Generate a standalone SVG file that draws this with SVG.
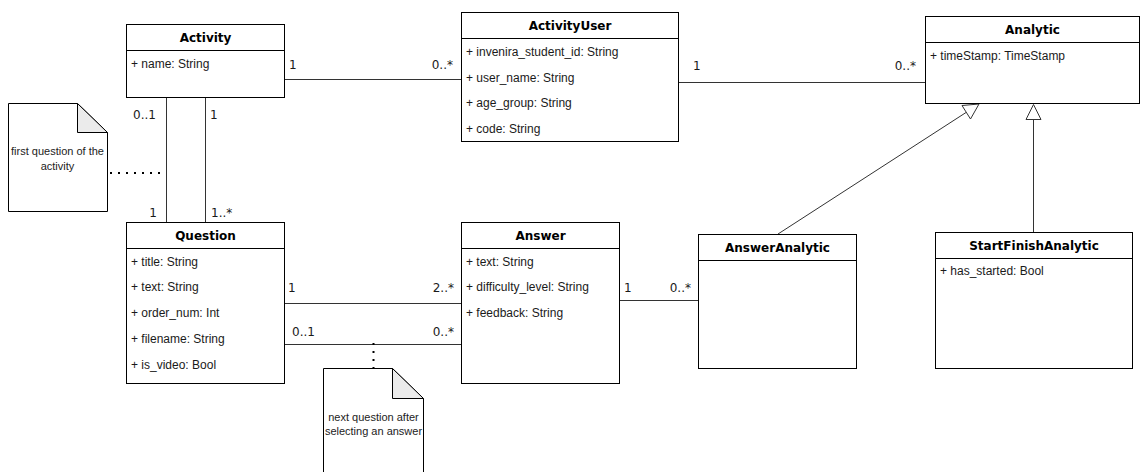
<svg xmlns="http://www.w3.org/2000/svg" width="1141" height="472" viewBox="0 0 1141 472">
  <style>
    .box { fill: #ffffff; stroke: #000000; stroke-width: 1; }
    .sep { stroke: #000000; stroke-width: 1; }
    .title { font-family: "DejaVu Sans", Verdana, sans-serif; font-size: 12px; font-weight: bold; fill: #000000; text-anchor: middle; }
    .attr { font-family: "Liberation Sans", Arial, sans-serif; font-size: 12px; fill: #1a1a1a; }
    .mult { font-family: "DejaVu Sans", Verdana, sans-serif; font-size: 12px; fill: #1a1a1a; }
    .mult.end { text-anchor: end; }
    .edge { fill: none; stroke: #333333; stroke-width: 1; }
    .dots { fill: none; stroke: #000000; stroke-width: 2; stroke-dasharray: 2 6; }
    .gen { fill: #ffffff; stroke: #333333; stroke-width: 1; }
    .note { fill: #ffffff; stroke: #000000; stroke-width: 1; }
    .fold { fill: #ebebeb; stroke: #000000; stroke-width: 1; }
    .notetext { font-family: "Liberation Sans", Arial, sans-serif; font-size: 11px; fill: #222222; text-anchor: middle; }
  </style>

  <!-- associations, generalizations and note anchors -->
  <g id="connectors">
    <!-- Activity 1 — 0..* ActivityUser -->
    <line class="edge" x1="285" y1="79.5" x2="462" y2="79.5"/>
    <text class="mult" x="289" y="69">1</text>
    <text class="mult end" x="453" y="69">0..*</text>

    <!-- ActivityUser 1 — 0..* Analytic -->
    <line class="edge" x1="679" y1="82.5" x2="926" y2="82.5"/>
    <text class="mult" x="693" y="69.5">1</text>
    <text class="mult end" x="916" y="69.5">0..*</text>

    <!-- Activity 0..1 — 1 Question (first question) -->
    <line class="edge" x1="166.5" y1="98" x2="166.5" y2="222"/>
    <text class="mult end" x="156" y="118.5">0..1</text>
    <text class="mult end" x="157" y="216.5">1</text>

    <!-- Activity 1 — 1..* Question -->
    <line class="edge" x1="205.5" y1="98" x2="205.5" y2="222"/>
    <text class="mult" x="210" y="118.5">1</text>
    <text class="mult" x="211" y="216.5">1..*</text>

    <!-- Question 1 — 2..* Answer -->
    <line class="edge" x1="285" y1="303.5" x2="462" y2="303.5"/>
    <text class="mult" x="288" y="291.5">1</text>
    <text class="mult end" x="454" y="291.5">2..*</text>

    <!-- Question 0..1 — 0..* Answer (next question) -->
    <line class="edge" x1="285" y1="344.5" x2="462" y2="344.5"/>
    <text class="mult" x="292" y="336">0..1</text>
    <text class="mult end" x="454" y="336">0..*</text>

    <!-- Answer 1 — 0..* AnswerAnalytic -->
    <line class="edge" x1="620" y1="300.5" x2="699" y2="300.5"/>
    <text class="mult" x="624" y="291.5">1</text>
    <text class="mult end" x="691" y="291.5">0..*</text>

    <!-- AnswerAnalytic extends Analytic -->
    <line class="edge" x1="778" y1="234" x2="966" y2="112.5"/>
    <polygon class="gen" points="962,105.5 979,104 970.5,119"/>

    <!-- StartFinishAnalytic extends Analytic -->
    <line class="edge" x1="1033.5" y1="119.5" x2="1033.5" y2="232"/>
    <polygon class="gen" points="1033.5,104.5 1026,119.5 1041,119.5"/>

    <!-- note anchors -->
    <line class="dots" x1="110" y1="173" x2="166" y2="173"/>
    <line class="dots" x1="373.5" y1="343" x2="373.5" y2="368"/>
  </g>

  <g id="activity">
    <rect class="box" x="126.5" y="24.5" width="158" height="73"/>
    <line class="sep" x1="126.5" y1="50.5" x2="284.5" y2="50.5"/>
    <text class="title" x="205.5" y="41.5">Activity</text>
    <text class="attr" x="131" y="68">+ name: String</text>
  </g>

  <g id="activity-user">
    <rect class="box" x="461.5" y="12.5" width="217" height="129"/>
    <line class="sep" x1="461.5" y1="38.5" x2="678.5" y2="38.5"/>
    <text class="title" x="570" y="29.5">ActivityUser</text>
    <text class="attr" x="466" y="56">+ invenira_student_id: String</text>
    <text class="attr" x="466" y="81.5">+ user_name: String</text>
    <text class="attr" x="466" y="107">+ age_group: String</text>
    <text class="attr" x="466" y="132.5">+ code: String</text>
  </g>

  <g id="analytic">
    <rect class="box" x="925.5" y="16.5" width="214" height="87"/>
    <line class="sep" x1="925.5" y1="42.5" x2="1139.5" y2="42.5"/>
    <text class="title" x="1032.5" y="33.5">Analytic</text>
    <text class="attr" x="930" y="60">+ timeStamp: TimeStamp</text>
  </g>

  <g id="question">
    <rect class="box" x="126.5" y="222.5" width="158" height="161"/>
    <line class="sep" x1="126.5" y1="248.5" x2="284.5" y2="248.5"/>
    <text class="title" x="205.5" y="239.5">Question</text>
    <text class="attr" x="131" y="265.5">+ title: String</text>
    <text class="attr" x="131" y="291">+ text: String</text>
    <text class="attr" x="131" y="317">+ order_num: Int</text>
    <text class="attr" x="131" y="343">+ filename: String</text>
    <text class="attr" x="131" y="368.5">+ is_video: Bool</text>
  </g>

  <g id="answer">
    <rect class="box" x="461.5" y="222.5" width="158" height="161"/>
    <line class="sep" x1="461.5" y1="248.5" x2="619.5" y2="248.5"/>
    <text class="title" x="540.5" y="239.5">Answer</text>
    <text class="attr" x="466" y="265.5">+ text: String</text>
    <text class="attr" x="466" y="291">+ difficulty_level: String</text>
    <text class="attr" x="466" y="317">+ feedback: String</text>
  </g>

  <g id="answer-analytic">
    <rect class="box" x="698.5" y="234.5" width="158" height="134"/>
    <line class="sep" x1="698.5" y1="260.5" x2="856.5" y2="260.5"/>
    <text class="title" x="777.5" y="251.5">AnswerAnalytic</text>
  </g>

  <g id="start-finish-analytic">
    <rect class="box" x="935.5" y="232.5" width="197" height="136"/>
    <line class="sep" x1="935.5" y1="258.5" x2="1132.5" y2="258.5"/>
    <text class="title" x="1034" y="249.5">StartFinishAnalytic</text>
    <text class="attr" x="940" y="275">+ has_started: Bool</text>
  </g>

  <g id="note-first-question">
    <path class="note" d="M8.5,103.5 H77.5 L107.5,132.5 V211.5 H8.5 Z"/>
    <path class="fold" d="M77.5,103.5 V132.5 H107.5 Z"/>
    <text class="notetext" x="57.5" y="155">first question of the</text>
    <text class="notetext" x="57.5" y="169.5">activity</text>
  </g>

  <g id="note-next-question">
    <path class="note" d="M323.5,368.5 H392.5 L423.5,398.5 V480 H323.5 Z"/>
    <path class="fold" d="M392.5,368.5 V398.5 H423.5 Z"/>
    <text class="notetext" x="373.5" y="420.5">next question after</text>
    <text class="notetext" x="373.5" y="434.5">selecting an answer</text>
  </g>
</svg>
